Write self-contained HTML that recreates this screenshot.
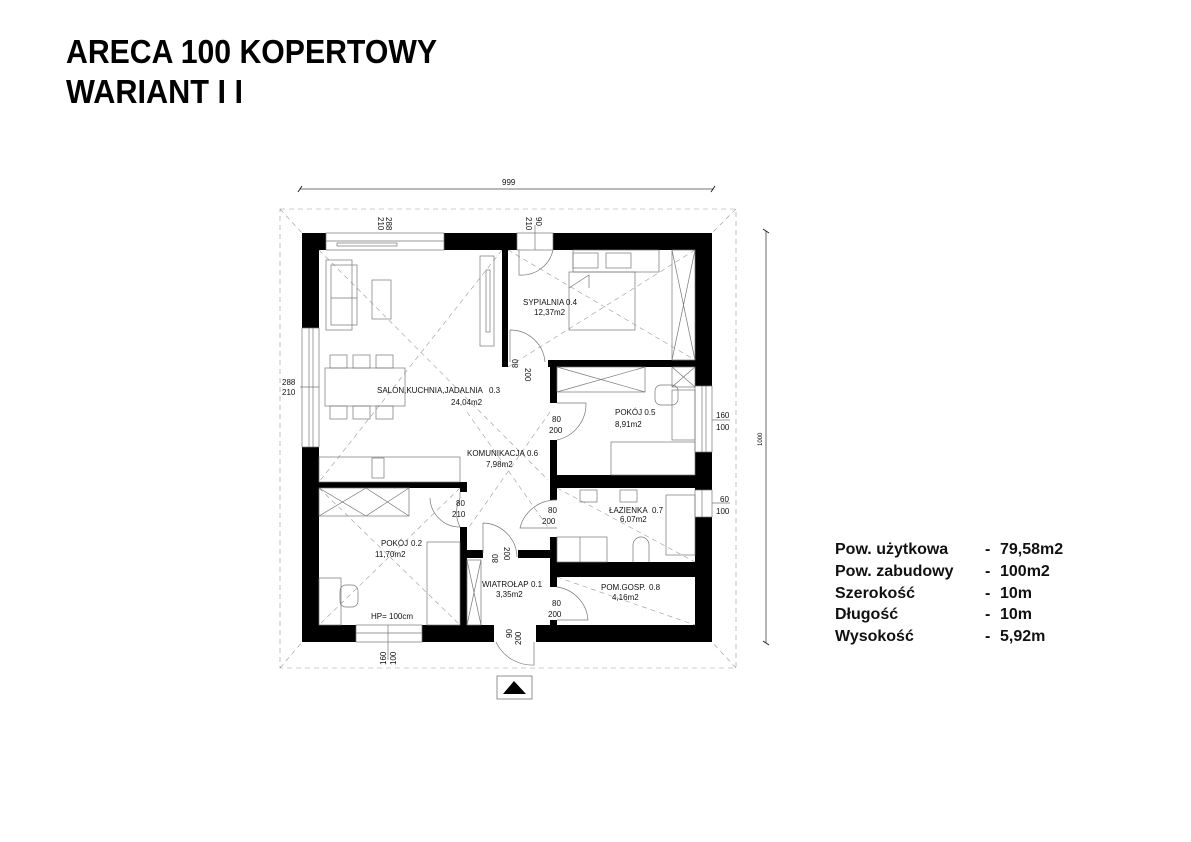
<!DOCTYPE html>
<html><head><meta charset="utf-8"><style>
html,body{margin:0;padding:0;background:#fff}
svg{display:block}
text{font-family:"Liberation Sans",sans-serif}
.t{font-size:8px;fill:#111}
.f{fill:none;stroke:#777;stroke-width:0.7}
.d{fill:none;stroke:#999;stroke-width:0.6;stroke-dasharray:5 4}
</style></head><body>
<svg width="1191" height="842" viewBox="0 0 1191 842" xmlns="http://www.w3.org/2000/svg">
<text x="66" y="63" font-size="33" font-weight="bold" textLength="371" lengthAdjust="spacingAndGlyphs">ARECA 100 KOPERTOWY</text>
<text x="66" y="103" font-size="33" font-weight="bold" textLength="177" lengthAdjust="spacingAndGlyphs">WARIANT I I</text>

<line x1="300" y1="189" x2="713" y2="189" stroke="#444" stroke-width="0.8"/>
<line x1="298" y1="192" x2="302" y2="186" stroke="#222"/>
<line x1="711" y1="192" x2="715" y2="186" stroke="#222"/>
<text x="502" y="185" class="t" font-size="6">999</text>
<line x1="766" y1="231" x2="766" y2="643" stroke="#444" stroke-width="0.8"/>
<line x1="763" y1="229" x2="769" y2="233" stroke="#222"/>
<line x1="763" y1="641" x2="769" y2="645" stroke="#222"/>
<text x="0" y="0" font-size="6" transform="translate(762,446) rotate(-90)">1000</text>

<rect x="280" y="209" width="456" height="459" class="d"/>
<line x1="280" y1="209" x2="302" y2="233" class="d"/>
<line x1="736" y1="209" x2="712" y2="233" class="d"/>
<line x1="280" y1="668" x2="302" y2="642" class="d"/>
<line x1="736" y1="668" x2="712" y2="642" class="d"/>

<g class="d" stroke-width="0.5">
<line x1="319" y1="250" x2="548" y2="480"/>
<line x1="502" y1="250" x2="319" y2="482"/>
<line x1="508" y1="250" x2="695" y2="360"/>
<line x1="695" y1="250" x2="508" y2="367"/>
<line x1="319" y1="488" x2="460" y2="625"/>
<line x1="460" y1="488" x2="319" y2="625"/>
<line x1="557" y1="488" x2="695" y2="562"/>
<line x1="557" y1="577" x2="695" y2="625"/>
<line x1="467" y1="412" x2="550" y2="530"/>
<line x1="550" y1="412" x2="467" y2="530"/>
</g>

<g fill="#000">
<rect x="302" y="233" width="24" height="17"/>
<rect x="444" y="233" width="73" height="17"/>
<rect x="553" y="233" width="159" height="17"/>
<rect x="302" y="233" width="17" height="95"/>
<rect x="302" y="447" width="17" height="195"/>
<rect x="695" y="233" width="17" height="153"/>
<rect x="695" y="452" width="17" height="38"/>
<rect x="695" y="517" width="17" height="125"/>
<rect x="302" y="625" width="54" height="17"/>
<rect x="422" y="625" width="72" height="17"/>
<rect x="536" y="625" width="176" height="17"/>
<rect x="502" y="250" width="6" height="117"/>
<rect x="548" y="360" width="147" height="7"/>
<rect x="550" y="367" width="7" height="36"/>
<rect x="550" y="440" width="7" height="60"/>
<rect x="557" y="475" width="138" height="13"/>
<rect x="550" y="537" width="7" height="50"/>
<rect x="557" y="562" width="138" height="15"/>
<rect x="550" y="620" width="7" height="7"/>
<rect x="319" y="482" width="148" height="6"/>
<rect x="460" y="488" width="7" height="4"/>
<rect x="460" y="527" width="7" height="100"/>
<rect x="460" y="550" width="23" height="8"/>
<rect x="518" y="550" width="32" height="8"/>
</g>

<g class="f">
<rect x="326" y="233" width="118" height="17"/>
<line x1="326" y1="241" x2="444" y2="241"/>
<rect x="337" y="243" width="60" height="3"/>
<rect x="517" y="233" width="36" height="17"/>
<line x1="535" y1="225" x2="535" y2="250"/>
<rect x="302" y="328" width="17" height="119"/>
<line x1="309" y1="328" x2="309" y2="447"/><line x1="313" y1="328" x2="313" y2="447"/>
<rect x="695" y="386" width="17" height="66"/>
<line x1="702" y1="386" x2="702" y2="452"/><line x1="706" y1="386" x2="706" y2="452"/>
<rect x="695" y="490" width="17" height="27"/>
<line x1="702" y1="490" x2="702" y2="517"/>
<rect x="356" y="625" width="66" height="17"/>
<line x1="356" y1="633" x2="422" y2="633"/>
<line x1="388" y1="625" x2="388" y2="660"/>
<line x1="300" y1="387" x2="319" y2="387"/>
<line x1="712" y1="420" x2="730" y2="420"/>
<line x1="712" y1="503" x2="730" y2="503"/>
</g>

<g class="f">
<path d="M519 250 L519 275 A 32 32 0 0 0 553 250"/>
<path d="M510 330 L510 362 M510 330 A 35 35 0 0 1 545 362"/>
<path d="M557 403 L586 403 A 37 37 0 0 1 557 440"/>
<path d="M557 500 A 37 37 0 0 0 520 528 L557 528"/>
<path d="M460 492 L460 498 A 32 32 0 0 0 460 527 M430 498 A 30 30 0 0 0 460 527"/>
<path d="M483 523 A 35 35 0 0 1 517 557 M483 523 L483 553"/>
<path d="M557 587 A 36 36 0 0 1 588 620 L557 620"/>
<path d="M496 642 A 40 40 0 0 0 534 665 L534 642"/>
</g>

<g class="f">
<rect x="326" y="260" width="26" height="70"/><rect x="331" y="265" width="26" height="60"/>
<line x1="331" y1="298" x2="357" y2="298"/>
<rect x="372" y="280" width="19" height="39"/>
<rect x="480" y="256" width="14" height="90"/><rect x="486" y="270" width="4" height="62"/>
<rect x="325" y="368" width="80" height="38"/>
<rect x="330" y="355" width="17" height="13"/><rect x="353" y="355" width="17" height="13"/><rect x="376" y="355" width="17" height="13"/>
<rect x="330" y="406" width="17" height="13"/><rect x="353" y="406" width="17" height="13"/><rect x="376" y="406" width="17" height="13"/>
<rect x="319" y="457" width="141" height="25"/>
<rect x="372" y="458" width="12" height="20"/>
<rect x="319" y="488" width="90" height="28"/>
<path d="M319 488 L366 516 M366 488 L319 516 M366 488 L409 516 M409 488 L366 516"/>
<rect x="427" y="542" width="33" height="83"/>
<rect x="319" y="578" width="22" height="47"/>
<rect x="340" y="585" width="18" height="22" rx="6"/>
<rect x="467" y="560" width="14" height="65"/><path d="M467 560 L481 625 M481 560 L467 625"/>
<rect x="573" y="250" width="86" height="22"/>
<rect x="573" y="253" width="25" height="15"/><rect x="606" y="253" width="25" height="15"/>
<rect x="569" y="272" width="66" height="58"/>
<path d="M569 288 L589 275 L589 288"/>
<rect x="672" y="250" width="23" height="110"/><path d="M672 250 L695 360 M695 250 L672 360"/>
<rect x="557" y="367" width="88" height="25"/><path d="M557 367 L645 392 M645 367 L557 392"/>
<rect x="672" y="367" width="23" height="20"/><path d="M672 367 L695 387 M695 367 L672 387"/>
<rect x="672" y="390" width="23" height="50"/>
<rect x="655" y="385" width="23" height="20" rx="6"/>
<rect x="611" y="442" width="84" height="33"/>
<rect x="580" y="490" width="17" height="12"/><rect x="620" y="490" width="17" height="12"/>
<rect x="557" y="537" width="50" height="25"/><line x1="580" y1="537" x2="580" y2="562"/>
<path d="M633 562 L633 545 A8 8 0 0 1 649 545 L649 562"/>
<rect x="666" y="495" width="29" height="60"/>
</g>

<g class="t">
<text x="377" y="393">SALON,KUCHNIA,JADALNIA</text><text x="489" y="393">0.3</text>
<text x="451" y="405">24,04m2</text>
<text x="523" y="305">SYPIALNIA</text><text x="566" y="305">0.4</text>
<text x="534" y="315">12,37m2</text>
<text x="615" y="415">POKÓJ 0.5</text><text x="615" y="427">8,91m2</text>
<text x="467" y="456">KOMUNIKACJA</text><text x="527" y="456">0.6</text>
<text x="486" y="467">7,98m2</text>
<text x="609" y="513">ŁAZIENKA</text><text x="652" y="513">0.7</text>
<text x="620" y="522">6,07m2</text>
<text x="381" y="546">POKÓJ</text><text x="411" y="546">0.2</text>
<text x="375" y="557">11,70m2</text>
<text x="371" y="619">HP= 100cm</text>
<text x="482" y="587">WIATROŁAP</text><text x="531" y="587">0.1</text>
<text x="496" y="597">3,35m2</text>
<text x="601" y="590">POM.GOSP.</text><text x="649" y="590">0.8</text>
<text x="612" y="600">4,16m2</text>
<text x="456" y="506">80</text><text x="452" y="517">210</text>
<text x="548" y="513">80</text><text x="542" y="524">200</text>
<text x="552" y="422">80</text><text x="549" y="433">200</text>
<text x="552" y="606">80</text><text x="548" y="617">200</text>
<text x="282" y="385">288</text><text x="282" y="395">210</text>
<text x="716" y="418">160</text><text x="716" y="430">100</text>
<text x="720" y="502">60</text><text x="716" y="514">100</text>
</g>
<g class="t">
<text transform="translate(518,368) rotate(-90)">80</text>
<text transform="translate(525,368) rotate(90)">200</text>
<text transform="translate(498,563) rotate(-90)">80</text>
<text transform="translate(504,547) rotate(90)">200</text>
<text transform="translate(512,638) rotate(-90)">90</text>
<text transform="translate(521,645) rotate(-90)">200</text>
<text transform="translate(386,665) rotate(-90)">160</text>
<text transform="translate(396,665) rotate(-90)">100</text>
<text transform="translate(378,217) rotate(90)">210</text>
<text transform="translate(386,217) rotate(90)">288</text>
<text transform="translate(526,217) rotate(90)">210</text>
<text transform="translate(536,217) rotate(90)">90</text>
</g>

<rect x="497" y="676" width="35" height="23" fill="none" stroke="#777" stroke-width="0.8"/>
<polygon points="503,694 514,681 526,694" fill="#000"/>

<g font-size="16" font-weight="bold" fill="#111">
<text x="835" y="554">Pow. użytkowa</text><text x="985" y="554">-</text><text x="1000" y="554">79,58m2</text>
<text x="835" y="576">Pow. zabudowy</text><text x="985" y="576">-</text><text x="1000" y="576">100m2</text>
<text x="835" y="598">Szerokość</text><text x="985" y="598">-</text><text x="1000" y="598">10m</text>
<text x="835" y="619">Długość</text><text x="985" y="619">-</text><text x="1000" y="619">10m</text>
<text x="835" y="641">Wysokość</text><text x="985" y="641">-</text><text x="1000" y="641">5,92m</text>
</g>
</svg>
</body></html>
